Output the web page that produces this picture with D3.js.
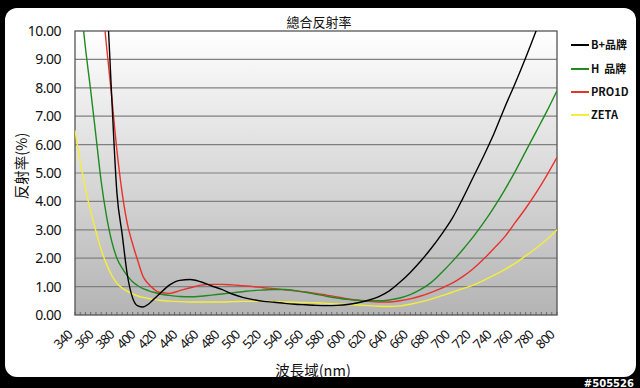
<!DOCTYPE html>
<html><head><meta charset="utf-8">
<script src="https://cdn.jsdelivr.net/npm/d3@7"></script>
<style>html,body{margin:0;padding:0;background:#000;}svg{display:block;}</style>
</head><body>
<script>
const title = "總合反射率";
const yTitle = "反射率(%)";
const xTitle = "波長域(nm)";
const wavelengths = [340,345,350,355,360,365,370,375,380,385,390,395,400,405,410,415,420,
  430,440,450,460,470,480,490,500,510,520,530,540,550,560,570,580,590,600,610,620,630,640,
  650,660,670,680,690,700,710,720,730,740,750,760,770,780,790,800];
const seriesNames = ["B+品牌", "H  品牌", "PRO1D", "ZETA"];
const seriesColors = ["#000000", "#1f8a1f", "#e8322c", "#f4ee3a"];
const bPlus = [24,22,20,18,16.5,14,11.5,7.7,4.3,2.85,1.4,0.6,0.32,0.28,0.38,0.55,0.72,
  1.05,1.22,1.25,1.17,1.03,0.9,0.74,0.62,0.54,0.48,0.45,0.41,0.38,0.36,0.34,0.33,0.34,0.37,0.43,0.52,0.65,0.85,
  1.15,1.5,1.9,2.35,2.85,3.4,4.1,4.85,5.6,6.4,7.3,8.15,9.05,10.0,11.0,12.0];
const hBrand = [13.5,11.2,9.4,7.9,6.3,4.7,3.5,2.6,2.0,1.65,1.38,1.17,1.03,0.93,0.86,0.8,0.75,
  0.69,0.65,0.64,0.66,0.7,0.74,0.78,0.82,0.86,0.88,0.9,0.9,0.86,0.8,0.73,0.66,0.6,0.55,0.52,0.5,0.5,0.53,
  0.6,0.72,0.9,1.15,1.5,1.88,2.3,2.75,3.25,3.8,4.4,5.05,5.75,6.45,7.15,7.9];
const pro1d = [30,25,20,16,13.5,11.4,9.5,7.7,5.8,4.3,3.2,2.5,1.9,1.35,1.1,0.92,0.8,
  0.76,0.86,0.96,1.05,1.08,1.08,1.06,1.03,1.0,0.96,0.93,0.89,0.85,0.81,0.76,0.7,0.64,0.57,0.52,0.48,0.46,0.46,
  0.5,0.57,0.67,0.8,0.95,1.12,1.35,1.63,1.97,2.35,2.75,3.25,3.75,4.3,4.9,5.55];
const zeta = [6.5,5.4,4.45,3.65,2.95,2.3,1.8,1.4,1.12,0.95,0.83,0.74,0.67,0.62,0.58,0.55,0.52,
  0.49,0.47,0.46,0.46,0.46,0.46,0.47,0.48,0.48,0.48,0.47,0.46,0.45,0.44,0.43,0.41,0.39,0.37,0.35,0.33,0.31,0.3,
  0.32,0.38,0.46,0.56,0.68,0.8,0.93,1.05,1.22,1.4,1.6,1.82,2.08,2.35,2.65,3.0];
const seriesValues = [bPlus, hBrand, pro1d, zeta];
const yTicks = [0,1,2,3,4,5,6,7,8,9,10];
const xTickLabels = [340,360,380,400,420,440,460,480,500,520,540,560,580,600,620,640,660,680,700,720,740,760,780,800];
const minorStep = 5;

const W = 640, H = 388;
const m = {left: 75, right: 557, top: 31, bottom: 315};
const svg = d3.select("body").append("svg").attr("width", W).attr("height", H);
svg.append("rect").attr("width", W).attr("height", H).attr("fill", "#000");
svg.append("rect").attr("x", 5).attr("y", 8).attr("width", 631).attr("height", 369)
  .attr("rx", 12).attr("fill", "#fff");

const x = d3.scaleLinear().domain([340, 800]).range([m.left, m.right]);
const y = d3.scaleLinear().domain([0, 10]).range([m.bottom, m.top]);

const defs = svg.append("defs");
const grad = defs.append("linearGradient").attr("id", "bg").attr("x1", 0).attr("y1", 0).attr("x2", 0).attr("y2", 1);
grad.append("stop").attr("offset", "0%").attr("stop-color", "#ffffff");
grad.append("stop").attr("offset", "100%").attr("stop-color", "#b4b4b4");
defs.append("clipPath").attr("id", "clip").append("rect")
  .attr("x", m.left).attr("y", m.top).attr("width", m.right - m.left).attr("height", m.bottom - m.top);

svg.append("rect").attr("x", m.left).attr("y", m.top).attr("width", m.right - m.left)
  .attr("height", m.bottom - m.top).attr("fill", "url(#bg)");

// gridlines
svg.append("g").selectAll("line").data(yTicks.filter(t => t > 0 && t < 10)).join("line")
  .attr("x1", m.left).attr("x2", m.right).attr("y1", d => y(d)).attr("y2", d => y(d))
  .attr("stroke", "#808080").attr("stroke-width", 1.2);

// minor ticks on bottom
const minor = d3.range(340, 800 + 0.1, minorStep);
svg.append("g").selectAll("line").data(minor).join("line")
  .attr("x1", d => x(d)).attr("x2", d => x(d)).attr("y1", m.bottom).attr("y2", m.bottom - 3)
  .attr("stroke", "#555").attr("stroke-width", 0.8);

// border
svg.append("rect").attr("x", m.left).attr("y", m.top).attr("width", m.right - m.left)
  .attr("height", m.bottom - m.top).attr("fill", "none").attr("stroke", "#555").attr("stroke-width", 1.3);

// y labels
svg.append("g").selectAll("text").data(yTicks).join("text")
  .attr("x", 61).attr("y", d => y(d) + 5).attr("text-anchor", "end")
  .attr("font-family", "'Noto Sans', sans-serif").attr("font-size", 14).attr("fill", "#111")
  .attr("letter-spacing", -0.5)
  .text(d => d.toFixed(2));

// x labels
svg.append("g").selectAll("text").data(xTickLabels).join("text")
  .attr("text-anchor", "end")
  .attr("transform", d => `translate(${x(d) - 2},${336}) rotate(-45)`)
  .attr("font-family", "'Noto Sans', sans-serif").attr("font-size", 13).attr("fill", "#111")
  .attr("letter-spacing", -1)
  .text(d => d);

// lines
const line = d3.line().x(d => x(d[0])).y(d => y(d[1])).curve(d3.curveMonotoneX);
const gl = svg.append("g").attr("clip-path", "url(#clip)");
[3, 2, 1, 0].forEach(i => {
  gl.append("path").datum(wavelengths.map((w, j) => [w, seriesValues[i][j]]))
    .attr("d", line).attr("fill", "none").attr("stroke", seriesColors[i]).attr("stroke-width", 1.4);
});

// titles
svg.append("text").attr("x", 319).attr("y", 27).attr("text-anchor", "middle")
  .attr("font-family", "'Noto Sans CJK TC', sans-serif").attr("font-size", 13).attr("fill", "#111").text(title);
svg.append("text").attr("transform", "translate(27,166) rotate(-90)").attr("text-anchor", "middle")
  .attr("font-family", "'Noto Sans CJK TC', sans-serif").attr("font-size", 14.5).attr("fill", "#111").text(yTitle);
svg.append("text").attr("x", 313).attr("y", 376).attr("text-anchor", "middle")
  .attr("font-family", "'Noto Sans CJK TC', sans-serif").attr("font-size", 14.5).attr("fill", "#111").text(xTitle);

// legend
const legY = [45, 69, 92, 115];
const leg = svg.append("g");
seriesNames.forEach((n, i) => {
  leg.append("line").attr("x1", 571).attr("x2", 589).attr("y1", legY[i]).attr("y2", legY[i])
    .attr("stroke", seriesColors[i]).attr("stroke-width", 2);
  leg.append("text").attr("x", 591).attr("y", legY[i] + 4).attr("xml:space", "preserve")
    .attr("font-family", "'Noto Sans CJK TC', sans-serif").attr("font-weight", "bold")
    .attr("font-size", 11).attr("fill", "#111").text(n);
});

// watermark
svg.append("text").attr("x", 634).attr("y", 387).attr("text-anchor", "end")
  .attr("font-family", "'DejaVu Sans', sans-serif").attr("font-size", 10).attr("font-weight", "bold")
  .attr("fill", "#fff").text("#505526");
</script>
</body></html>
